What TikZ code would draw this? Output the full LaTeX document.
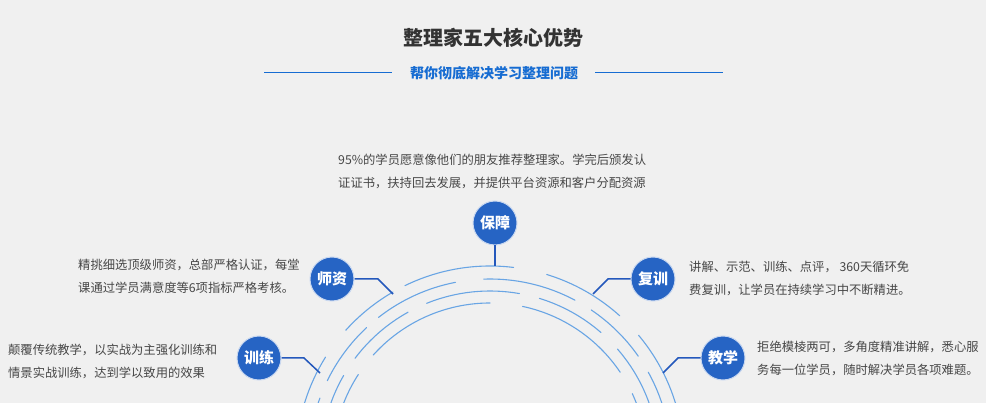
\documentclass[tikz,border=0pt]{standalone}
\usepackage{fontspec}
\setmainfont{Noto Sans CJK SC}
\definecolor{bgc}{RGB}{240,240,240}
\definecolor{titlec}{RGB}{51,51,51}
\definecolor{subc}{RGB}{22,108,210}
\definecolor{circc}{RGB}{38,100,196}
\definecolor{connc}{RGB}{36,88,188}
\definecolor{arcc}{RGB}{105,165,228}
\definecolor{txtc}{RGB}{70,70,70}
\begin{document}
\begin{tikzpicture}[x=1pt,y=1pt,
  badge/.style={circle,fill=circc,draw=circc!25!white,line width=1pt,minimum size=44pt,inner sep=0pt,text=white,font=\fontsize{15}{15}\selectfont\bfseries},
  conn/.style={draw=connc,line width=1.5pt},
  arcline/.style={draw=arcc,line width=1.1pt,line cap=round},
  desc/.style={anchor=west,inner sep=0pt,align=left,text=txtc,font=\fontsize{12.3}{23}\selectfont},
  rule/.style={draw=subc,line width=0.9pt}]
\fill[bgc] (0,0) rectangle (986,-403);
\useasboundingbox (0,0) rectangle (986,-403);
\clip (0,0) rectangle (986,-403);

% title
\node[text=titlec,font=\fontsize{20}{20}\selectfont\bfseries] (title) at (493,-38) {整理家五大核心优势};
\node[text=subc,font=\fontsize{14}{14}\selectfont\bfseries] (sub) at (494,-73) {帮你彻底解决学习整理问题};
\coordinate (l1) at (264,-72); \coordinate (l2) at (392,-72);
\coordinate (r1) at (595,-72); \coordinate (r2) at (723,-72);
\draw[rule] (l1) -- (l2);
\draw[rule] (r1) -- (r2);

% arcs
\coordinate (C) at (490,-460);
\foreach \r/\a/\b in {
  194/83/116, 194/120/138, 194/148/178, 194/48/73, 194/5/40,
  181/62/92, 181/101/128, 181/133/154, 181/160/180, 181/35/56, 181/2/29,
  169/80/112, 169/119/143, 169/150/167, 169/49/73, 169/12/41,
  157/90/138, 157/147/165, 157/34/78, 157/3/25}
  \draw[arcline] (C) ++(\a:\r) arc[start angle=\a,end angle=\b,radius=\r];

% badges
\node[badge] (bz) at (495,-223) {保障};
\node[badge] (sz) at (332,-279) {师资};
\node[badge] (fx) at (653,-279) {复训};
\node[badge] (xl) at (259,-358) {训练};
\node[badge] (jx) at (723,-358) {教学};

% connectors
\coordinate (bzE) at (495,-266);
\coordinate (szB) at (378,-279); \coordinate (szE) at (393,-294);
\coordinate (fxB) at (608,-279); \coordinate (fxE) at (593,-294);
\coordinate (xlB) at (304,-358); \coordinate (xlE) at (320,-373);
\coordinate (jxB) at (678,-358); \coordinate (jxE) at (663,-373);
\draw[conn] (bz.south) -- (bzE);
\draw[conn] (sz.east) -- (szB) -- (szE);
\draw[conn] (fx.west) -- (fxB) -- (fxE);
\draw[conn] (xl.east) -- (xlB) -- (xlE);
\draw[conn] (jx.west) -- (jxB) -- (jxE);

% descriptions
\node[desc] (tbz) at (338,-171) {95\%的学员愿意像他们的朋友推荐整理家。学完后颁发认\\证证书，扶持回去发展，并提供平台资源和客户分配资源};
\node[desc] (tsz) at (78,-276) {精挑细选顶级师资，总部严格认证，每堂\\课通过学员满意度等6项指标严格考核。};
\node[desc] (txl) at (8,-361) {颠覆传统教学，以实战为主强化训练和\\情景实战训练，达到学以致用的效果};
\node[desc] (tfx) at (689,-278) {讲解、示范、训练、点评， 360天循环免\\费复训，让学员在持续学习中不断精进。};
\node[desc] (tjx) at (757,-358) {拒绝模棱两可，多角度精准讲解，悉心服\\务每一位学员，随时解决学员各项难题。};
\end{tikzpicture}
\end{document}
